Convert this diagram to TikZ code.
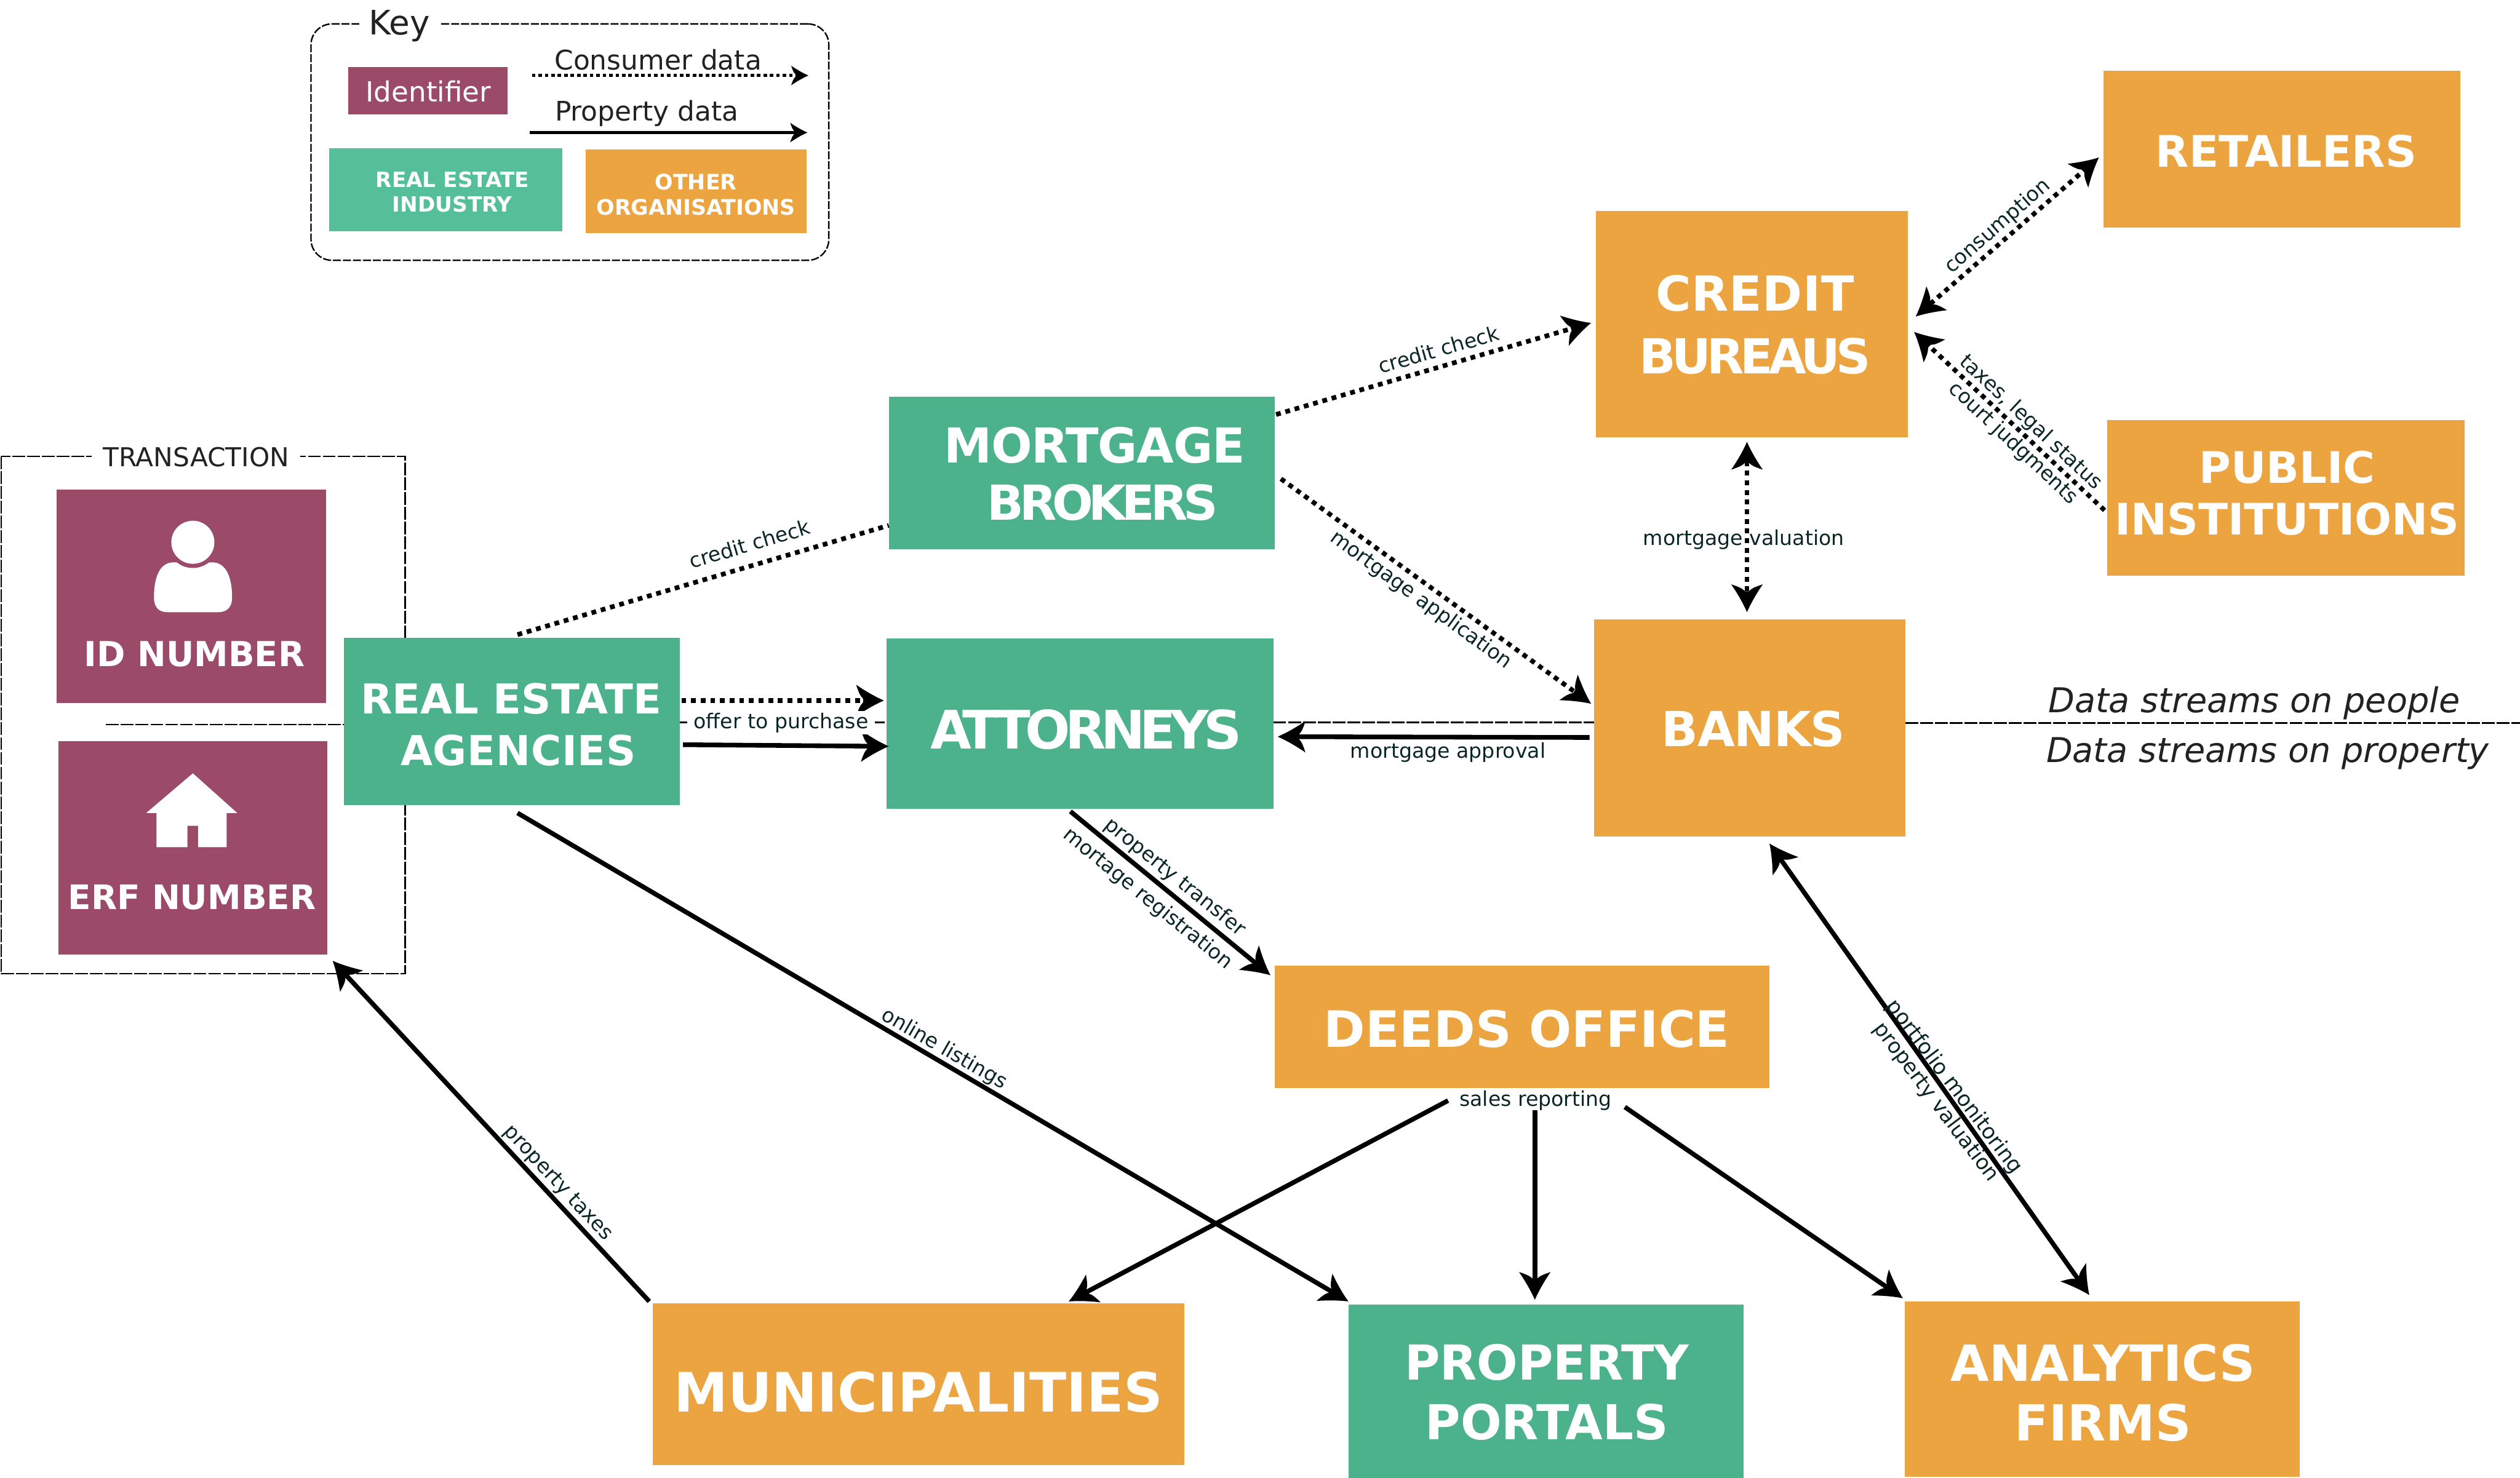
\documentclass[tikz,border=0pt]{standalone}
\usepackage{fontspec}
\setmainfont{DejaVu Sans}
\usetikzlibrary{arrows.meta}
\definecolor{maroon}{HTML}{9B4B68}
\definecolor{greenA}{HTML}{4CB28C}
\definecolor{greenK}{HTML}{55BF9A}
\definecolor{orangeA}{HTML}{ECA441}
\definecolor{labelC}{HTML}{0B2626}
\definecolor{keyC}{HTML}{222222}
\newcommand{\mkbarb}[2]{%
\pgfdeclarearrow{name=#1,
  setup code={%
    \pgfmathsetlengthmacro\barbline{-#2*12pt}%
    \pgfmathsetlengthmacro\barbback{-#2*17.3pt}%
    \pgfmathsetlengthmacro\barbvis{-#2*13pt}%
    \pgfarrowssettipend{0pt}%
    \pgfarrowssetlineend{\barbline}%
    \pgfarrowssetbackend{\barbback}%
    \pgfarrowssetvisualbackend{\barbvis}},
  drawing code={%
    \pgfpathmoveto{\pgfpoint{0pt}{0pt}}%
    \pgfpathcurveto{\pgfpoint{-#2*6pt}{#2*2.6pt}}{\pgfpoint{-#2*12pt}{#2*6.2pt}}{\pgfpoint{-#2*17.3pt}{#2*9.8pt}}%
    \pgfpathcurveto{\pgfpoint{-#2*16pt}{#2*6pt}}{\pgfpoint{-#2*15pt}{#2*3pt}}{\pgfpoint{-#2*13pt}{#2*1.2pt}}%
    \pgfpathlineto{\pgfpoint{-#2*13pt}{-#2*1.2pt}}%
    \pgfpathcurveto{\pgfpoint{-#2*15pt}{-#2*3pt}}{\pgfpoint{-#2*16pt}{-#2*6pt}}{\pgfpoint{-#2*17.3pt}{-#2*9.8pt}}%
    \pgfpathcurveto{\pgfpoint{-#2*12pt}{-#2*6.2pt}}{\pgfpoint{-#2*6pt}{-#2*2.6pt}}{\pgfpoint{0pt}{0pt}}%
    \pgfpathclose\pgfusepathqfill}}}
\mkbarb{Barb}{1}
\mkbarb{BarbS}{0.62}
\newcommand{\ls}[2]{{\addfontfeature{LetterSpace=#1}#2}}
\newcommand{\fs}[1]{\fontsize{#1}{#1}\selectfont}
\tikzset{
  blk/.style={draw=none,inner sep=0pt,outer sep=0pt,anchor=center},
  gbox/.style={blk,fill=greenA},
  kbox/.style={blk,fill=greenK},
  obox/.style={blk,fill=orangeA},
  mbox/.style={blk,fill=maroon},
  big/.style={text=white,font=\bfseries,align=center,inner sep=0pt},
  lab/.style={text=labelC,inner sep=0pt,font=\fs{12.7}},
  keytxt/.style={text=keyC,inner sep=0pt},
  dashline/.style={draw=black,line width=1pt,dash pattern=on 8pt off 1.2pt},
  solidarrow/.style={draw=black,line width=2.9pt,-{Barb}},
  dotline/.style={draw=black,line width=2.9pt,dash pattern=on 3pt off 3pt},
  dotarrow/.style={dotline,-{Barb}},
  dotboth/.style={dotline,{Barb}-{Barb}},
  solidboth/.style={draw=black,line width=2.9pt,{Barb}-{Barb}},
}
\begin{document}
\begin{tikzpicture}[x=1pt,y=-1pt]
\useasboundingbox (0,0) rectangle (1568,919.9);

\coordinate (ml) at (66,451);
\coordinate (mr) at (1568,450);
\coordinate (tbx1) at (0.8,284);
\coordinate (tbx2) at (252,606);

\draw[dashline] (tbx1) rectangle (tbx2);
\node[blk,minimum width=322.2pt,minimum height=147.1pt,rounded corners=13pt,draw=black,line width=0.9pt,dash pattern=on 5pt off 1.2pt] (keybox) at (354.6,88.45) {};

\node[mbox,minimum width=99.2pt,minimum height=29.3pt] (kid) at (266.4,56.5) {};
\node[text=white,inner sep=0pt,font=\fs{17.3}] (kidt) at (266.6,57) {Identifier};
\node[kbox,minimum width=145.1pt,minimum height=51.6pt] (kre) at (277.3,118) {};
\node[big,font=\bfseries\fs{13.1}] (kret) at (281.5,119.5) {REAL ESTATE\\[2.4pt]INDUSTRY};
\node[obox,minimum width=137.7pt,minimum height=52pt] (kot) at (433.1,119) {};
\node[big,font=\bfseries\fs{13.3}] (kott) at (433,121) {OTHER\\[2.4pt]ORGANISATIONS};
\coordinate (kcs) at (331,47); \coordinate (kce) at (503,47);
\coordinate (kps) at (329.5,82.5); \coordinate (kpe) at (502.4,82.5);
\draw[draw=black,line width=2pt,dash pattern=on 2.2pt off 1.8pt,-{BarbS}] (kcs) -- (kce);
\draw[draw=black,line width=2pt,-{BarbS}] (kps) -- (kpe);
\node[keytxt,font=\fs{16.8}] (kcl) at (409.5,37.2) {Consumer data};
\node[keytxt,font=\fs{16.8}] (kpl) at (402.5,70.5) {Property data};
\node[keytxt,fill=white,inner xsep=6pt,inner ysep=0pt,font=\fs{21}] (kt) at (248.5,16) {Key};
\node[keytxt,fill=white,inner xsep=7pt,font=\fs{16.2}] (tt) at (122,284.5) {TRANSACTION};

% --- main boxes
\node[mbox,minimum width=167.7pt,minimum height=132.9pt] (id) at (119.2,371) {};
\node[mbox,minimum width=167.1pt,minimum height=132.7pt] (erf) at (120,527.7) {};
\node[gbox,minimum width=209pt,minimum height=104.4pt] (rea) at (318.5,449) {};
\node[gbox,minimum width=240pt,minimum height=95pt] (mb) at (673,294.5) {};
\node[gbox,minimum width=240.5pt,minimum height=106pt] (att) at (672,450.5) {};
\node[obox,minimum width=194pt,minimum height=140.6pt] (credit) at (1090,201.7) {};
\node[obox,minimum width=222pt,minimum height=97.6pt] (retail) at (1420,92.8) {};
\node[obox,minimum width=222.6pt,minimum height=97pt] (public) at (1422.3,309.8) {};
\node[obox,minimum width=193.5pt,minimum height=135pt] (banks) at (1088.7,453) {};
\node[obox,minimum width=308pt,minimum height=76pt] (deeds) at (947,639) {};
\node[obox,minimum width=331pt,minimum height=101pt] (muni) at (571.5,861.5) {};
\node[gbox,minimum width=246pt,minimum height=108pt] (portal) at (962,866) {};
\node[obox,minimum width=246pt,minimum height=109pt] (analyt) at (1308,864.5) {};

% --- dashed midline segments
\draw[dashline] (ml) -- ([shift={(0,2)}]rea.west);
\draw[dashline] ([shift={(0,0.5)}]rea.east) -- ([shift={(0,-1)}]att.west);
\draw[dashline] ([shift={(0,-1)}]att.east) -- ([shift={(0,-3.5)}]banks.west);
\draw[dashline] ([shift={(0,-3)}]banks.east) -- (mr);

% --- box texts
\node[big,font=\bfseries\fs{21.4}] (idt) at (121,407) {ID NUMBER};
\node[big,font=\bfseries\fs{21}] (erft) at (119.5,558.5) {ERF NUMBER};
\node[big,font=\bfseries\fs{25.7}] (reat) at (318,451) {REAL ESTATE\\[6.3pt]\hspace*{9pt}\ls{1}{AGENCIES}};
\node[big,font=\bfseries\fs{30}] (mbt) at (681,295) {\ls{-1.5}{MORTGAGE}\\[5.7pt]\hspace*{10pt}\ls{-9}{BROKERS}};
\node[big,font=\bfseries\fs{33}] (attt) at (676,454) {\ls{-10}{ATTORNEYS}};
\node[big,font=\bfseries\fs{30}] (credt) at (1092,202) {\ls{1}{CREDIT}\\[9pt]\ls{-8.5}{BUREAUS}};
\node[big,font=\bfseries\fs{30}] (bankt) at (1091,453.5) {\ls{-1.5}{BANKS}};
\node[big,font=\bfseries\fs{27}] (rett) at (1422.5,94) {RETAILERS};
\node[big,font=\bfseries\fs{27}] (pubt) at (1423,307) {PUBLIC\\[5pt]INSTITUTIONS};
\node[big,font=\bfseries\fs{31.2}] (deedt) at (950,640.5) {DEEDS OFFICE};
\node[big,font=\bfseries\fs{33.8}] (munit) at (571.5,866.5) {MUNICIPALITIES};
\node[big,font=\bfseries\fs{30}] (portt) at (962.5,866.5) {PROPERTY\\[7pt]PORTALS};
\node[big,font=\bfseries\fs{31}] (anat) at (1308.5,867) {ANALYTICS\\[6pt]FIRMS};

% --- icons
\fill[white] (95.8,372) .. controls (95.8,358) and (100,350) .. (108,350) -- (132,350)
  .. controls (140,350) and (144.4,358) .. (144.4,372)
  .. controls (144.4,378) and (141,381) .. (136,381) -- (104,381)
  .. controls (99,381) and (95.8,378) .. (95.8,372) -- cycle;
\fill[maroon] (120,337.5) circle[radius=16pt];
\fill[white] (120,337.5) circle[radius=13.4pt];
\fill[white] (120,481.3) -- (147.6,506) -- (141,506) -- (141,527.3) -- (123.3,527.3) -- (123.3,514)
  -- (116.6,514) -- (116.6,527.3) -- (97.4,527.3) -- (97.4,506) -- (91,506) -- cycle;

% --- connectors
\draw[dotarrow] ([shift={(121,-36.5)}]mb.center) -- ([shift={(-100,-0.7)}]credit.center);
\draw[dotline] ([shift={(3.5,-54)}]rea.center) -- ([shift={(-120,32.5)}]mb.center);
\draw[dotarrow] ([shift={(124,3.5)}]mb.center) -- ([shift={(-98.7,-15)}]banks.center);
\draw[dotboth] ([shift={(102,-4.7)}]credit.center) -- ([shift={(-114,5.2)}]retail.center);
\draw[dotarrow] ([shift={(-112.8,7.8)}]public.center) -- ([shift={(101,4.9)}]credit.center);
\draw[dotboth] ([shift={(-3,73.3)}]credit.center) -- ([shift={(-1.7,-72)}]banks.center);
\draw[dotarrow] ([shift={(105.5,-13)}]rea.center) -- ([shift={(-122,-14.5)}]att.center);
\draw[solidarrow] ([shift={(106.5,14.5)}]rea.center) -- ([shift={(-119,14)}]att.center);
\draw[solidarrow] ([shift={(-99.7,6)}]banks.center) -- ([shift={(123,8)}]att.center);
\draw[solidarrow] ([shift={(-6,54.5)}]att.center) -- ([shift={(-156.5,-32)}]deeds.center);
\draw[solidarrow] ([shift={(3.5,57)}]rea.center) -- ([shift={(-123,-56)}]portal.center);
\draw[solidarrow] ([shift={(-167.5,-51.5)}]muni.center) -- ([shift={(87,70.3)}]erf.center);
\draw[solidarrow] ([shift={(-46,46)}]deeds.center) -- ([shift={(93.5,-51.5)}]muni.center);
\draw[solidarrow] ([shift={(8,52)}]deeds.center) -- ([shift={(-7,-57)}]portal.center);
\draw[solidarrow] ([shift={(64,50)}]deeds.center) -- ([shift={(-124,-56.5)}]analyt.center);
\draw[solidboth] ([shift={(12.3,72)}]banks.center) -- ([shift={(-8,-58.5)}]analyt.center);

% --- connector labels
\node[lab,rotate=16.4] (l1) at (466.5,338.5) {credit check};
\node[lab,rotate=16] (l2) at (895,217.5) {credit check};
\node[lab,rotate=-36] (l3) at (884,373.5) {mortgage application};
\node[lab,rotate=41] (l4) at (1243,141) {consumption};
\node[lab,rotate=-43] (l5) at (1263.5,263) {taxes, legal status};
\node[lab,rotate=-43] (l6) at (1252.5,276) {court judgments};
\node[lab] (l7) at (1085,336) {mortgage valuation};
\node[lab,fill=white,inner xsep=4pt,inner ysep=1pt] (l8) at (486,449.8) {offer to purchase};
\node[lab] (l9) at (901,468.5) {mortgage approval};
\node[lab,rotate=-39] (l10) at (731,546) {property transfer};
\node[lab,rotate=-39] (l11) at (714,559.5) {mortage registration};
\node[lab,rotate=-30] (l12) at (587.5,653) {online listings};
\node[lab,rotate=-47] (l13) at (347,736.5) {property taxes};
\node[lab] (l14) at (955.5,685) {sales reporting};
\node[lab,rotate=-53,font=\fs{13.2}] (l15) at (1215.7,676.5) {portfolio monitoring};
\node[lab,rotate=-53,font=\fs{13}] (l16) at (1204.5,686) {property valuation};

% --- side captions
\node[keytxt,font=\fs{21.3}\itshape] (cap1) at (1402.5,437.5) {Data streams on people};
\node[keytxt,font=\fs{21.3}\itshape] (cap2) at (1411,469) {Data streams on property};
\end{tikzpicture}
\end{document}
